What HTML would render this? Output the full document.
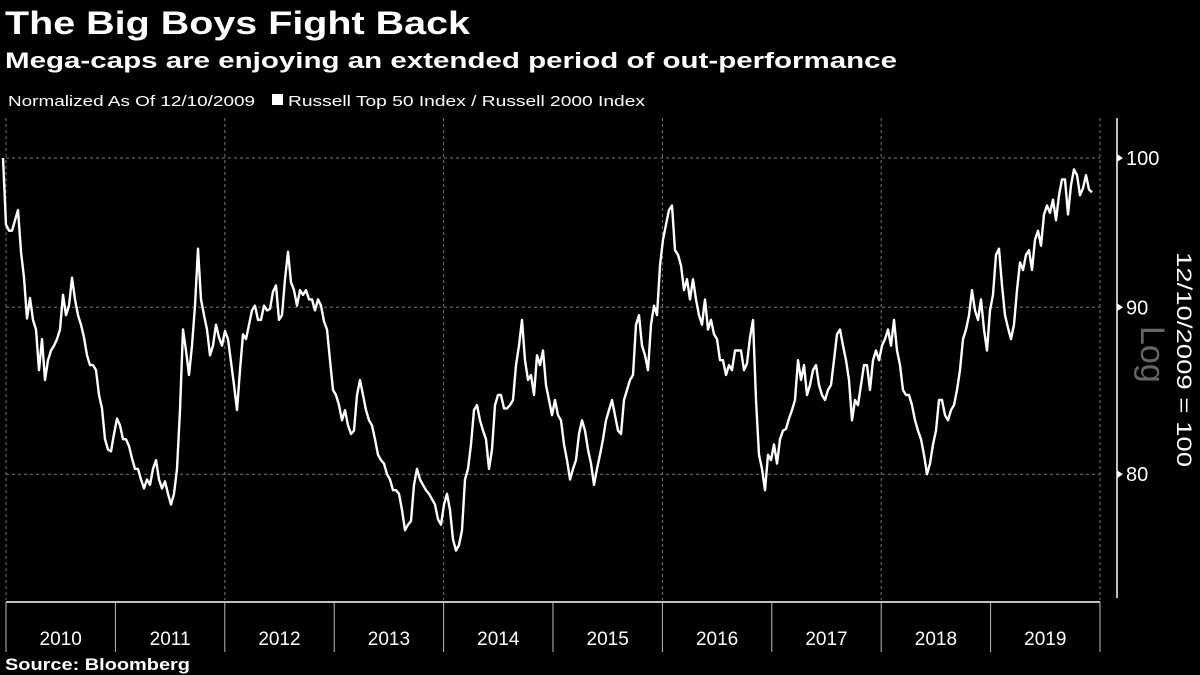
<!DOCTYPE html>
<html><head><meta charset="utf-8"><style>
html,body{margin:0;padding:0;background:#000;}
svg{display:block;font-family:"Liberation Sans",sans-serif;}
</style></head><body>
<svg id="chart" width="1200" height="675" viewBox="0 0 1200 675" xmlns="http://www.w3.org/2000/svg">
<rect width="1200" height="675" fill="#000"/>
<text x="5" y="34" fill="#fff" font-size="32" font-weight="bold" textLength="465" lengthAdjust="spacingAndGlyphs">The Big Boys Fight Back</text>
<text x="5" y="68" fill="#fff" font-size="22" font-weight="bold" textLength="892" lengthAdjust="spacingAndGlyphs">Mega-caps are enjoying an extended period of out-performance</text>
<text x="8" y="106" fill="#fff" font-size="15" textLength="247" lengthAdjust="spacingAndGlyphs">Normalized As Of 12/10/2009</text>
<rect x="272" y="94" width="11" height="11" fill="#fff"/>
<text x="288" y="106" fill="#fff" font-size="15" textLength="357" lengthAdjust="spacingAndGlyphs">Russell Top 50 Index / Russell 2000 Index</text>
<g id="grid"></g>
<g id="axes"></g>
<path id="series" fill="none" stroke="#fff" stroke-width="2.4" stroke-linejoin="round"/>
<text transform="translate(1177,252) rotate(90)" fill="#fff" font-size="21" textLength="215" lengthAdjust="spacingAndGlyphs">12/10/2009 = 100</text>
<text transform="translate(1141,326) rotate(90)" fill="#666" font-size="34">Log</text>
<text x="5" y="670" fill="#fff" font-size="17" font-weight="bold" textLength="185" lengthAdjust="spacingAndGlyphs">Source: Bloomberg</text>
</svg>
<script>
const years = [2010,2011,2012,2013,2014,2015,2016,2017,2018,2019];
const yTicks = [100,90,80];
const gridYears = [2010,2012,2014,2016,2018,2020];
const startDate = 2009.973;
const endDate = 2019.927;
const values = [100,95.4,95.0,95.0,95.7,96.4,93.6,91.9,89.3,90.6,89.2,88.6,86.1,88.0,85.5,86.7,87.3,87.6,88.0,88.6,90.8,89.5,90.1,91.9,90.5,89.5,88.9,88.1,87.0,86.4,86.4,86.1,84.6,83.8,82.0,81.4,81.3,82.3,83.2,82.8,82.0,82.0,81.6,80.9,80.3,80.3,79.7,79.2,79.7,79.4,80.3,80.8,79.7,79.2,79.6,78.9,78.3,78.9,80.3,83.7,88.6,87.3,85.8,87.6,90.1,93.8,90.5,89.5,88.6,87.0,87.6,88.9,88.1,87.6,88.5,88.0,86.6,85.2,83.7,86.1,88.3,88.0,88.9,89.8,90.1,89.2,89.2,90.1,89.8,89.9,
91.0,91.4,89.2,89.5,91.8,93.6,91.6,91.1,90.1,91.1,90.8,91.1,90.5,90.5,89.8,90.5,90.1,89.1,88.6,86.7,84.9,84.6,84.0,83.1,83.7,82.8,82.3,82.5,84.6,85.5,84.6,83.7,83.1,82.8,82.0,81.1,80.8,80.6,80.0,79.7,79.1,79.1,78.9,78.0,76.9,77.2,77.4,79.4,80.3,79.7,79.4,79.1,78.9,78.6,78.3,77.5,77.2,78.3,78.9,78.0,76.4,75.8,76.1,76.9,79.7,80.3,81.7,83.7,84.0,83.1,82.5,82.0,80.3,81.4,84.0,84.6,84.6,83.8,83.8,84.0,84.3,86.4,87.6,89.2,86.7,85.5,85.8,84.6,87.0,86.4,
87.3,85.2,84.3,83.4,84.3,83.4,83.1,81.7,80.8,79.7,80.3,80.8,82.3,83.1,82.5,81.4,80.6,79.4,80.3,81.1,82.0,83.1,83.7,84.3,83.4,82.5,82.3,84.3,84.9,85.5,85.8,88.9,89.5,87.6,87.0,86.1,88.9,90.1,89.5,92.7,94.4,95.4,96.4,96.7,93.7,93.4,92.7,91.1,91.8,90.5,91.8,90.5,89.5,88.9,90.5,88.6,89.2,88.3,88.0,86.7,86.7,85.8,86.4,86.1,87.3,87.3,87.3,86.1,86.5,88.1,89.2,84.3,81.1,80.3,79.1,81.1,80.8,81.7,80.6,82.0,82.5,82.6,83.2,83.7,84.3,86.7,85.5,86.4,84.6,85.2,
86.1,86.4,85.2,84.6,84.3,84.9,85.2,86.7,88.3,88.6,87.6,86.7,85.5,83.1,84.3,84.0,85.2,86.4,86.4,84.9,86.7,87.3,86.7,87.6,88.0,88.6,87.6,89.2,87.3,86.4,84.9,84.6,84.6,84.0,83.1,82.5,82.0,81.1,80.0,80.6,81.7,82.5,84.3,84.3,83.4,83.1,83.7,84.0,84.9,86.1,88.0,88.6,89.5,91.1,89.8,89.2,90.5,88.6,87.3,89.8,90.8,93.4,93.8,91.4,89.5,88.7,88.0,88.9,91.1,92.9,92.4,93.4,93.7,92.4,94.4,95.0,94.0,96.1,96.7,96.2,97.1,95.7,97.4,98.5,98.5,96.1,98.1,99.2,98.8,97.4,97.9,98.8,97.8,97.6];

const PX0 = 6, PX1 = 1100, PY_TOP = 118, PY_BOT = 600;
function xScale(t){ return PX0 + (t - 2010) * (PX1 - PX0) / 10; }
function yScale(v){ return 158 - Math.log(v / 100) * 1417; }
const NS = "http://www.w3.org/2000/svg";
const grid = document.getElementById('grid');
const axes = document.getElementById('axes');

gridYears.forEach(function(yr){
  const l = document.createElementNS(NS,'line');
  
  
  const x = xScale(yr);
  l.setAttribute('x1', x); l.setAttribute('x2', x);
  l.setAttribute('y1', PY_TOP); l.setAttribute('y2', PY_BOT);
  l.setAttribute('stroke', '#777'); l.setAttribute('stroke-width', '1'); l.setAttribute('stroke-dasharray', '3,3');
  grid.appendChild(l);
});
yTicks.forEach(function(v){
  const y = yScale(v);
  const l = document.createElementNS(NS,'line');
  
  
  l.setAttribute('x1', PX0); l.setAttribute('x2', PX1);
  l.setAttribute('y1', y); l.setAttribute('y2', y);
  l.setAttribute('stroke', '#777'); l.setAttribute('stroke-width', '1'); l.setAttribute('stroke-dasharray', '3,3');
  grid.appendChild(l);
  const m = document.createElementNS(NS,'path');
  
  
  m.setAttribute('d', 'M1117 ' + (y-4) + ' L1123 ' + y + ' L1117 ' + (y+4) + 'Z');
  m.setAttribute('fill', '#fff');
  axes.appendChild(m);
  const t = document.createElementNS(NS,'text');
  
  
  t.setAttribute('x', 1126); t.setAttribute('y', y + 7);
  t.setAttribute('fill', '#fff'); t.setAttribute('font-size', '20');
  t.textContent = v;
  axes.appendChild(t);
});
const yAxis = document.createElementNS(NS,'line');


yAxis.setAttribute('x1', 1117); yAxis.setAttribute('x2', 1117);
yAxis.setAttribute('y1', 118); yAxis.setAttribute('y2', 598);
yAxis.setAttribute('stroke', '#fff'); yAxis.setAttribute('stroke-width', '1.5');
axes.appendChild(yAxis);
const xAxis = document.createElementNS(NS,'line');


xAxis.setAttribute('x1', PX0); xAxis.setAttribute('x2', PX1);
xAxis.setAttribute('y1', 602); xAxis.setAttribute('y2', 602);
xAxis.setAttribute('stroke', '#fff'); xAxis.setAttribute('stroke-width', '1.5');
axes.appendChild(xAxis);
years.concat([2020]).forEach(function(yr){
  const x = xScale(yr);
  const l = document.createElementNS(NS,'line');
  
  
  l.setAttribute('x1', x); l.setAttribute('x2', x);
  l.setAttribute('y1', 602); l.setAttribute('y2', 652);
  l.setAttribute('stroke', '#bbb'); l.setAttribute('stroke-width', '1');
  axes.appendChild(l);
});
years.forEach(function(yr){
  const t = document.createElementNS(NS,'text');
  
  
  t.setAttribute('x', xScale(yr + 0.5)); t.setAttribute('y', 645);
  t.setAttribute('fill', '#fff'); t.setAttribute('font-size', '19'); t.setAttribute('text-anchor', 'middle');
  t.textContent = yr;
  axes.appendChild(t);
});
const n = values.length;
let d = '';
values.forEach(function(v, i){
  const t = startDate + (endDate - startDate) * i / (n - 1);
  d += (i ? 'L' : 'M') + xScale(t).toFixed(1) + ' ' + yScale(v).toFixed(1);
});
document.getElementById('series').setAttribute('d', d);
</script>
</body></html>
